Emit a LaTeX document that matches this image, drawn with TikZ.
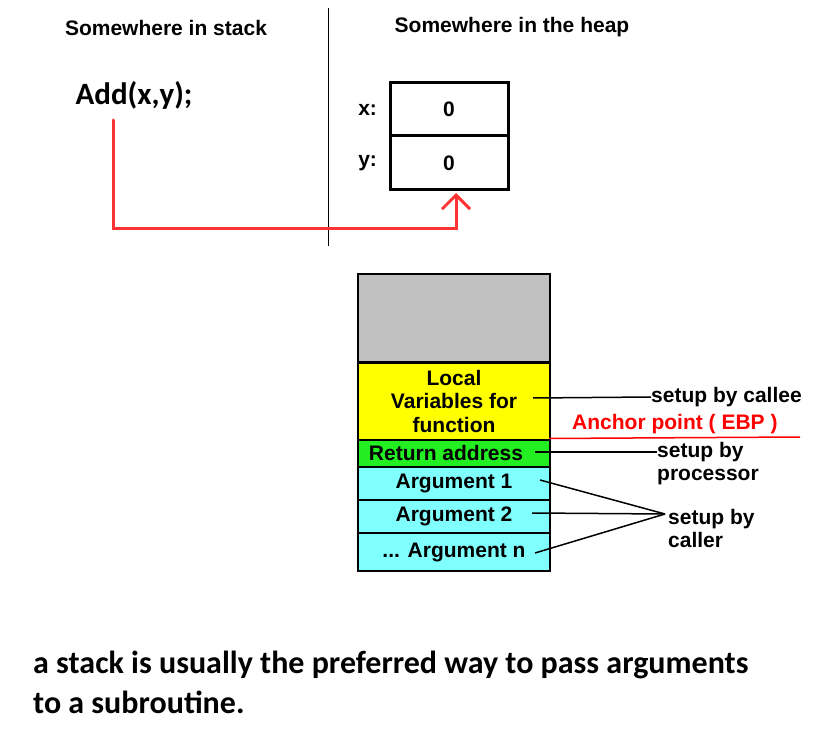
\documentclass[tikz,border=0pt]{standalone}
\usepackage{fontspec}
\setmainfont{Liberation Sans}
\newfontfamily\calib{Carlito}
\usetikzlibrary{positioning,arrows.meta,calc}
\definecolor{ptrred}{RGB}{255,51,51}
\definecolor{ebpred}{RGB}{255,0,0}
\definecolor{slotgray}{RGB}{192,192,192}
\definecolor{slotyellow}{RGB}{255,255,0}
\definecolor{slotgreen}{RGB}{34,238,34}
\definecolor{slotcyan}{RGB}{128,255,255}

\begin{document}
\begin{tikzpicture}[x=1pt,y=-1pt,
  head/.style={font=\fontsize{21}{24}\selectfont\bfseries},
  heapcell/.style={rectangle,draw,line width=3pt,minimum width=118pt,inner sep=0pt,font=\fontsize{21}{24}\selectfont\bfseries},
  slot/.style={rectangle,draw,line width=2pt,fill=#1,minimum width=192pt,inner sep=0pt,align=center,font=\fontsize{21}{23.5}\selectfont\bfseries},
  note/.style={anchor=west,inner sep=0pt,align=left,font=\fontsize{21}{23}\selectfont\bfseries},
  tick/.style={line width=1.5pt},
  ptr/.style={-{Straight Barb[length=14pt,width=28pt,line width=3pt]},line width=3pt,ptrred},
]
\useasboundingbox (0,0) rectangle (836,738);

% Top half: stack side | heap side
\draw[line width=1pt] (328,8) coordinate (sep1) -- (328,246) coordinate (sep2);
\node[head] (stackhead) at (166,28) {Somewhere in stack};
\node[head] (heaphead) at (512,27) {Somewhere in the heap};
\node[font=\calib\fontsize{31}{36}\selectfont\bfseries] (call) at (134,95) {Add(x,y);};

% Heap cells
\node[heapcell,minimum height=53pt] (xcell) at (449,109.5) {0};
\node[heapcell,minimum height=54pt] (ycell) at (449,163) {0};
\node[head,left=8pt of xcell] (xlab) {x:};
\node[head,left=8pt of ycell] (ylab) {y:};

% Pointer from the call to the heap
\coordinate (callout) at (113,120);
\draw[ptr,line cap=round] (callout) |- ($(ycell.south)+(7,37)$) -- ($(ycell.south)+(7,1.5)$);

% Stack frame
\node[slot=slotgray,minimum height=88pt] (free) at (454,318) {};
\node[slot=slotyellow,minimum height=77pt] (local) at (454,401) {Local\\Variables for\\function};
\node[slot=slotgreen,minimum height=27pt] (retaddr) at (454,453) {\hspace*{-16pt}Return address};
\node[slot=slotcyan,minimum height=33pt] (arg1) at (454,483.5) {Argument 1};
\node[slot=slotcyan,minimum height=33pt] (arg2) at (454,516.5) {Argument 2};
\node[slot=slotcyan,minimum height=38pt] (argn) at (454,552) {... Argument n};

% Who sets up what
\node[note] (callee) at (651,397) {setup by callee};
\node[note,text=ebpred] (ebp) at (572,424) {Anchor point ( EBP )};
\node[note] (proc) at (657,463.5) {setup by\\processor};
\node[note] (caller) at (668,528.5) {setup by\\caller};
\coordinate (ebpend) at (800,437);
\coordinate (callerin) at (665,514);

\draw[tick] ($(local.east)+(-18,-3)$) -- (callee.west);
\draw[line width=1.5pt,ebpred] ($(local.south east)+(-2,-2)$) -- (ebpend);
\draw[tick] ($(retaddr.east)+(-16,-1)$) -- (proc.west |- 0,452);
\draw[tick] ($(arg1.east)+(-11,-3.5)$) -- (callerin);
\draw[tick] ($(arg2.east)+(-19,-3.5)$) -- (callerin);
\draw[tick] ($(argn.east)+(-16,1)$) -- (callerin);

% Caption
\node[anchor=base west,inner sep=0pt,align=left,font=\calib\fontsize{32}{40}\selectfont\bfseries] (caption) at (33,713)
  {a stack is usually the preferred way to pass arguments\\to a subroutine.};
\end{tikzpicture}
\end{document}
